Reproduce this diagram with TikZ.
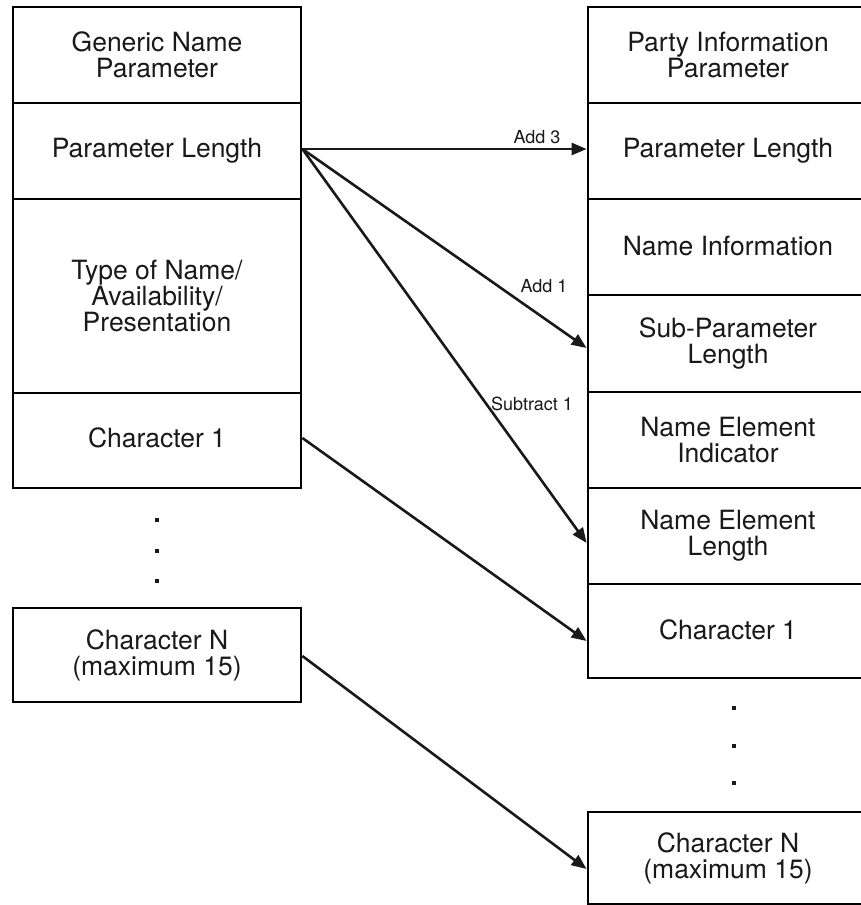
\documentclass[tikz,border=0pt]{standalone}
\usepackage{fontspec}
\setmainfont{TeX Gyre Heros}
\usetikzlibrary{arrows.meta}
\tikzset{
  box/.style={draw, line width=2.8pt, rectangle, inner sep=0pt, align=center,
    font=\fontsize{26.5}{26}\selectfont, text=black!90},
  lbox/.style={box, minimum width=288pt},
  rbox/.style={box, minimum width=280pt},
  conn/.style={line width=2.6pt, -{Triangle[length=15pt,width=12pt]}, black!90},
  lab/.style={font=\fontsize{18}{19}\selectfont, inner sep=0pt, text=black!90},
  dot/.style={fill=black!90, inner sep=0pt, minimum size=3.6pt, rectangle}
}
\begin{document}
\begin{tikzpicture}[x=1pt, y=-1pt]
\useasboundingbox (0,0) rectangle (861,905);
\fill[white] (0,0) rectangle (861,905);
\clip (0,0) rectangle (861,905);
% left column
\node[lbox, minimum height=96pt]  (L1) at (157,55)    {Generic Name\\Parameter};
\node[lbox, minimum height=96pt]  (L2) at (157,151)   {Parameter Length};
\node[lbox, minimum height=194pt] (L3) at (157,296)   {Type of Name/\\Availability/\\Presentation};
\node[lbox, minimum height=95pt]  (L4) at (157,440.5) {\raisebox{6pt}{Character 1}};
\node[lbox, minimum height=94pt]  (L5) at (157,655)   {Character N\\(maximum 15)};
% left dots
\node[dot] (ld1) at (157,520) {};
\node[dot] (ld2) at (157,551) {};
\node[dot] (ld3) at (157,581) {};
% right column
\node[rbox, minimum height=96pt] (R1) at (728,55)    {Party Information\\Parameter};
\node[rbox, minimum height=96pt] (R2) at (728,151)   {\raisebox{2pt}{Parameter Length}};
\node[rbox, minimum height=96pt] (R3) at (728,247)   {\raisebox{3pt}{Name Information}};
\node[rbox, minimum height=97pt] (R4) at (728,343.5) {Sub-Parameter\\Length};
\node[rbox, minimum height=96pt] (R5) at (728,440)   {Name Element\\Indicator};
\node[rbox, minimum height=96pt] (R6) at (728,536)   {Name Element\\Length};
\node[rbox, minimum height=94pt] (R7) at (728,631)   {\raisebox{3pt}{Character 1}};
\node[rbox, minimum height=92pt] (R8) at (728,858)   {Character N\\(maximum 15)};
% right dots
\node[dot] (rd1) at (734,708) {};
\node[dot] (rd2) at (734,746) {};
\node[dot] (rd3) at (734,783) {};
% connectors
\draw[conn] ([yshift=2pt]L2.east) -- ([yshift=2pt]R2.west);
\draw[conn] ([yshift=2pt]L2.east) -- ([yshift=-4.5pt]R4.west);
\draw[conn] ([yshift=2pt]L2.east) -- ([yshift=-7pt]R6.west);
\draw[conn] ([yshift=2.5pt]L4.east) -- ([yshift=-10pt]R7.west);
\draw[conn] ([yshift=-1pt]L5.east) -- ([yshift=-11pt]R8.west);
% labels
\node[lab] (a3) at (537,137) {Add 3};
\node[lab] (a1) at (544,286) {Add 1};
\node[lab] (s1) at (532,404) {Subtract 1};
\end{tikzpicture}
\end{document}
